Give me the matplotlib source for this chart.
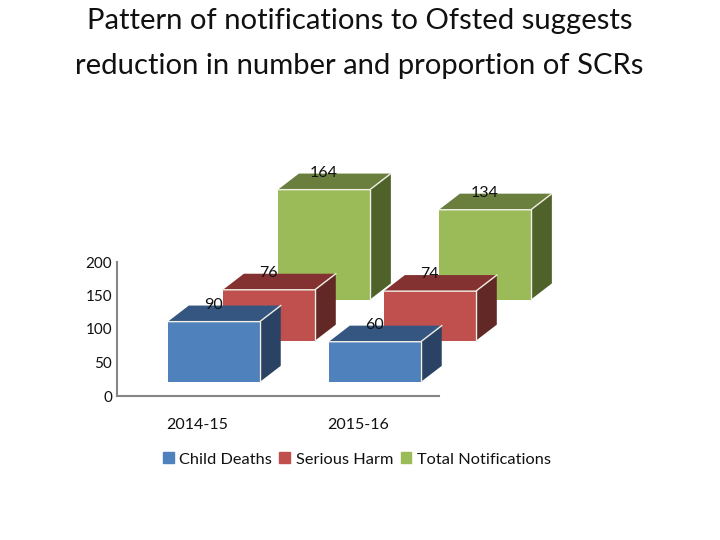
import matplotlib
matplotlib.use('Agg')
import matplotlib.pyplot as plt
from matplotlib.patches import Polygon, Patch

plt.rcParams['font.family'] = ['Lato', 'DejaVu Sans']

# Chart data
years = ['2014-15', '2015-16']
child_deaths = [90, 60]
serious_harm = [76, 74]
total_notifications = [164, 134]
y_ticks = [0, 50, 100, 150, 200]

# Series drawn back to front: name, values, front / top / side colour, slot in the depth
series = [
    ('Total Notifications', total_notifications, '#9BBB59', '#6A7F3D', '#4F6229', 2),
    ('Serious Harm', serious_harm, '#C0504D', '#843231', '#622826', 1),
    ('Child Deaths', child_deaths, '#4F81BD', '#355680', '#2A4263', 0),
]

# Fake 3D projection, in data units
bar_left = -0.184
bar_width = 0.571
depth_x = 0.13
depth_y = 24
slot_x = 0.342
slot_y = 61.5
floor_y = 21

fig = plt.figure(figsize=(7.2, 5.4), dpi=100)
ax = fig.add_axes([117 / 720, 1 - 396 / 540, 322 / 720, 134 / 540])
ax.set_xlim(-0.5, 1.5)
ax.set_ylim(0, 200)

for name, values, front, top, side, slot in series:
    for i, v in enumerate(values):
        x0 = i + bar_left + slot * slot_x
        x1 = x0 + bar_width
        y0 = floor_y + slot * slot_y
        y1 = y0 + v
        ax.bar(x0, v, bar_width, bottom=y0, align='edge', color=front, clip_on=False, zorder=3)
        ax.add_patch(Polygon([(x0, y1), (x1, y1), (x1 + depth_x, y1 + depth_y), (x0 + depth_x, y1 + depth_y)],
                             facecolor=top, edgecolor='none', clip_on=False, zorder=3))
        ax.add_patch(Polygon([(x1, y0), (x1, y1), (x1 + depth_x, y1 + depth_y), (x1 + depth_x, y0 + depth_y)],
                             facecolor=side, edgecolor='none', clip_on=False, zorder=3))
        # light bevel edges
        ax.plot([x0, x1, x1 + depth_x], [y1, y1, y1 + depth_y], color='#F2F0E6', lw=1, clip_on=False, zorder=3)
        ax.plot([x1, x1], [y0, y1], color='#F2F0E6', lw=1, clip_on=False, zorder=3)
        ax.text(x0 + bar_width * 0.5, y1 + 25, str(v), ha='center', va='center', fontsize=11.5,
                color='#111111', clip_on=False, zorder=5)

for s in ['top', 'right']:
    ax.spines[s].set_visible(False)
for s in ['left', 'bottom']:
    ax.spines[s].set_color('#868686')
    ax.spines[s].set_linewidth(1.5)

ax.set_xticks(range(len(years)))
ax.set_xticklabels(years)
ax.set_yticks(y_ticks)
ax.tick_params(axis='both', length=0, labelsize=11, labelcolor='#111111')
ax.tick_params(axis='x', labelsize=11.5, pad=15.5)
ax.tick_params(axis='y', pad=3.5)

handles = [Patch(color=s[2], label=s[0]) for s in reversed(series)]
fig.legend(handles=handles, loc='center', bbox_to_anchor=(357 / 720, 1 - 459.5 / 540), ncol=3, frameon=False,
           fontsize=11.8, handlelength=0.65, handleheight=0.65, handletextpad=0.35, columnspacing=0.45,
           labelcolor='#111111')

fig.text(360 / 720, 1 - 21 / 540, 'Pattern of notifications to Ofsted suggests', ha='center', va='center',
         fontsize=21.1, color='#111111')
fig.text(359 / 720, 1 - 66 / 540, 'reduction in number and proportion of SCRs', ha='center', va='center',
         fontsize=21.1, color='#111111')

fig.savefig('out.png', dpi=100)
